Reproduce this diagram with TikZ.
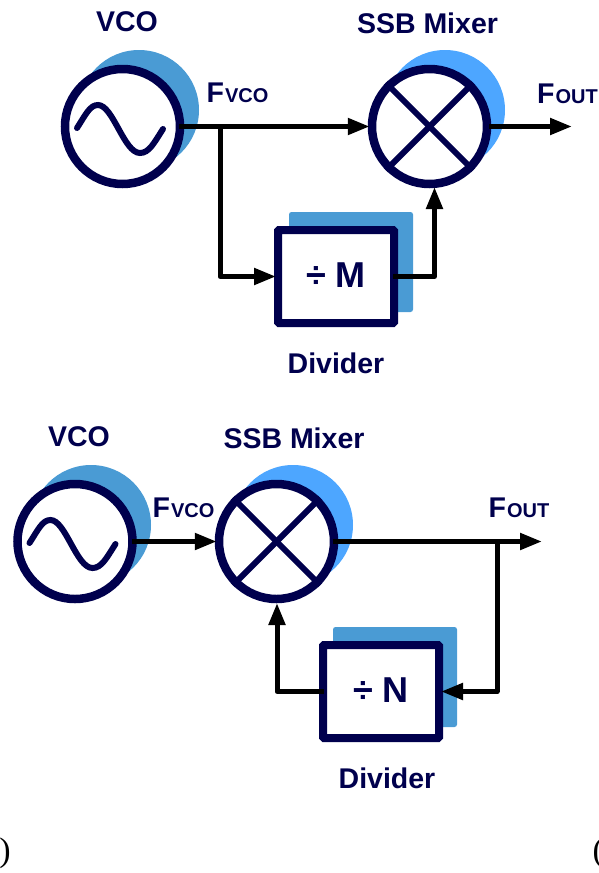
\documentclass[tikz,border=0pt]{standalone}
\usepackage{fontspec}
\setmainfont{Liberation Sans}
\newfontfamily\serifcap{Liberation Serif}
\usetikzlibrary{arrows.meta}
\definecolor{navy}{HTML}{00004D}
\definecolor{blueA}{HTML}{4A9BD4}
\definecolor{blueB}{HTML}{4DA6FF}
\tikzset{x=1pt,y=-1pt,
 ring/.style={circle,draw=navy,line width=8.5pt,fill=white,minimum size=115pt,inner sep=0pt},
 shade/.style={circle,minimum size=120pt,inner sep=0pt},
 boxn/.style={draw=navy,line width=8pt,fill=white,rounded corners=1pt,minimum width=116pt,minimum height=93pt,inner sep=0pt,font=\fontsize{36}{36}\selectfont\bfseries,text=navy},
 backbox/.style={fill=blueA,rounded corners=2.5pt,minimum width=124pt,minimum height=100pt,inner sep=0pt},
 lab/.style={text=navy,font=\fontsize{28.5}{28.5}\selectfont\bfseries,inner sep=0pt},
 flab/.style={lab,anchor=base},
 wire/.style={draw=black,line width=5pt,line join=round},
 arrowed/.style={wire,shorten >=-2pt,-{Triangle[length=22pt,width=16pt]}},
 glyph/.style={navy,line width=6pt,line cap=round},
 capt/.style={inner sep=0pt,font=\serifcap\fontsize{34}{34}\selectfont}}
\newcommand{\fsub}[1]{F\kern1pt{\fontsize{20}{20}\selectfont #1}}
\begin{document}
\begin{tikzpicture}
\useasboundingbox (0,0) rectangle (599,873);
% top
\node[shade,fill=blueA] (s1) at (139,110) {};
\node[ring] (v1) at (122.5,126.5) {};
\node[shade,fill=blueB] (s2) at (445,110) {};
\node[ring] (m1) at (429.5,126.5) {};
\node[backbox] (b1back) at (351,262) {};
\node[boxn] (d1) at (336,276.5) {\raisebox{2.5pt}{÷ M}};
\node[lab] (t1) at (127,22) {VCO};
\node[lab] (t2) at (427.5,23) {SSB Mixer};
\node[lab] (t3) at (336,363) {Divider};
\node[flab] (f1) at (237.5,102) {\fsub{VCO}};
\node[flab] (f2) at (567.5,103) {\fsub{OUT}};
\coordinate (j1) at (220,126.5);
\coordinate (o1) at (572,126.5);
\coordinate (in1) at (434.5,187);
\draw[glyph] (77,128) .. controls (86,114) and (90,105) .. (98,105) .. controls (113,105) and (124,153) .. (140,153) .. controls (149,153) and (154,143) .. (163,129);
\draw[glyph,line cap=butt] (m1.north west) -- (m1.south east);
\draw[glyph,line cap=butt] (m1.north east) -- (m1.south west);
\draw[arrowed,shorten <=-5pt] (v1.east) -- (m1.west);
\draw[arrowed,shorten <=-2pt,shorten >=0pt] (m1.east) -- (o1);
\draw[arrowed] (j1) |- (d1.west);
\draw[arrowed,shorten <=-5pt,shorten >=0pt] (d1.east) -| (in1);
% bottom
\node[shade,fill=blueA] (s3) at (91,525) {};
\node[ring] (v2) at (75,541.5) {};
\node[shade,fill=blueB] (s4) at (293,525) {};
\node[ring] (m2) at (276.5,541.5) {};
\node[backbox] (b2back) at (395,677) {};
\node[boxn] (d2) at (381,691.5) {\raisebox{2.5pt}{÷ N}};
\node[lab] (t4) at (79,437) {VCO};
\node[lab] (t5) at (294,438) {SSB Mixer};
\node[lab] (t6) at (387,778) {Divider};
\node[flab] (f3) at (183.5,517) {\fsub{VCO}};
\node[flab] (f4) at (519,517) {\fsub{OUT}};
\coordinate (j2) at (497,541.5);
\coordinate (o2) at (542,541.5);
\coordinate (in2) at (277,603);
\draw[glyph] (29.5,543) .. controls (38.5,529) and (42.5,520) .. (50.5,520) .. controls (65.5,520) and (76.5,568) .. (92.5,568) .. controls (101.5,568) and (106.5,558) .. (115.5,544);
\draw[glyph,line cap=butt] (m2.north west) -- (m2.south east);
\draw[glyph,line cap=butt] (m2.north east) -- (m2.south west);
\draw[arrowed,shorten <=-5pt] (v2.east) -- (m2.west);
\draw[arrowed,shorten <=-5pt,shorten >=0pt] (m2.east) -- (o2);
\draw[arrowed] (j2) |- (d2.east);
\draw[arrowed,shorten <=-5pt,shorten >=0pt] (d2.west) -| (in2);
% caption fragments, cut by the picture's edges as in the reference
\node[capt,anchor=east] (c1) at (11,853) {a)};
\node[capt,anchor=west] (c2) at (592.5,853) {(};
\end{tikzpicture}
\end{document}
